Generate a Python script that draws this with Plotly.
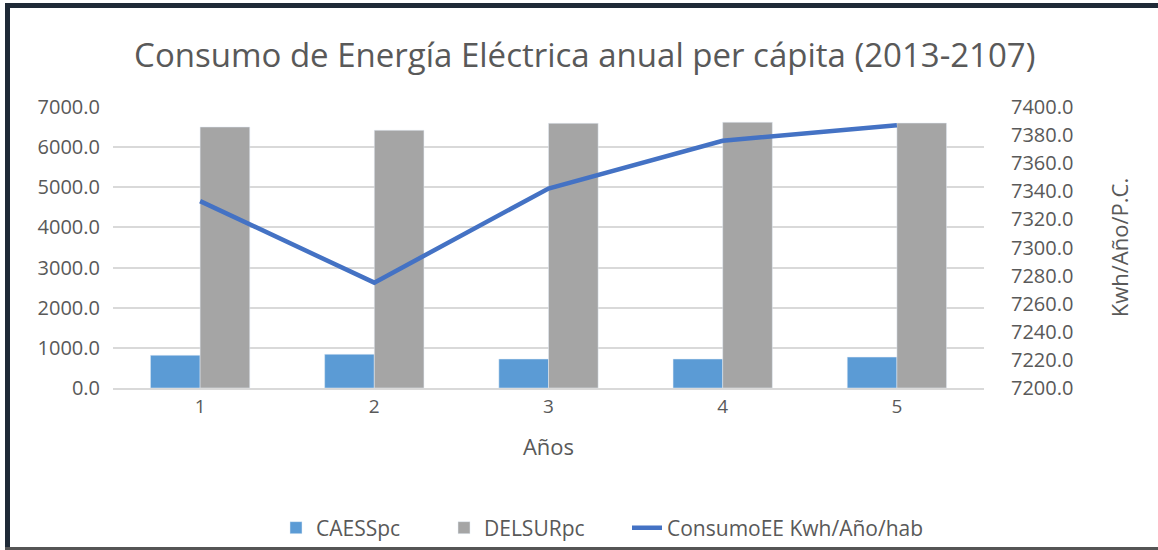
import plotly.graph_objects as go

categories = ["1", "2", "3", "4", "5"]
caess = [815, 840, 722, 722, 770]
delsur = [6502, 6420, 6594, 6619, 6600]
consumo = [7333, 7275, 7342, 7376, 7387]
left_ticks = [0, 1000, 2000, 3000, 4000, 5000, 6000, 7000]
right_ticks = [7200, 7220, 7240, 7260, 7280, 7300, 7320, 7340, 7360, 7380, 7400]

W, H = 1158, 550
L, R, T, B = 113, 174, 107, 162
PW, PH = W - L - R, H - T - B

def px(x):
    return (x - L) / PW

def py(y):
    return (H - B - y) / PH

FONT = "Open Sans"
GRAY = "#595959"

fig = go.Figure()
fig.add_trace(go.Bar(x=categories, y=caess, name="CAESSpc", marker_color="#5B9BD5",
                     legend="legend"))
fig.add_trace(go.Bar(x=categories, y=delsur, name="DELSURpc", marker_color="#A5A5A5",
                     legend="legend2"))
fig.add_trace(go.Scatter(x=categories, y=consumo, name="ConsumoEE Kwh/Año/hab",
                         mode="lines", line=dict(color="#4472C4", width=4.5), yaxis="y2",
                         legend="legend3"))

def leg(xpix):
    return dict(orientation="h", x=px(xpix), xanchor="left", y=py(528), yanchor="middle",
                font=dict(size=21, color=GRAY), bgcolor="rgba(0,0,0,0)")

fig.update_layout(
    width=W, height=H,
    margin=dict(l=L, r=R, t=T, b=B, autoexpand=False),
    paper_bgcolor="white", plot_bgcolor="white",
    font=dict(family=FONT, color=GRAY, size=17),
    title=dict(text="Consumo de Energía Eléctrica anual per cápita (2013-2107)",
               x=0.505, xanchor="center", y=1 - 55 / H, yanchor="middle",
               font=dict(size=33, color=GRAY, family=FONT)),
    barmode="group", bargap=0.43, bargroupgap=0,
    xaxis=dict(showgrid=False, showline=True, linecolor="#D9D9D9", linewidth=1.5,
               ticks="", tickfont=dict(size=19, color=GRAY), automargin=False,
               title=dict(text="Años", font=dict(size=22, color=GRAY), standoff=22)),
    yaxis=dict(range=[0, 7000], tickvals=left_ticks,
               ticktext=[f"{v:.1f}" for v in left_ticks], automargin=False,
               showgrid=True, gridcolor="#D9D9D9", gridwidth=1.5, zeroline=False,
               tickfont=dict(size=20, color=GRAY), ticks="", ticklabelstandoff=12),
    yaxis2=dict(range=[7200, 7400], tickvals=right_ticks,
                ticktext=[f"{v:.1f}" for v in right_ticks], automargin=False,
                overlaying="y", side="right", showgrid=False, zeroline=False,
                tickfont=dict(size=20, color=GRAY), ticks="", ticklabelstandoff=26,
                title=dict(text="Kwh/Año/P.C.", font=dict(size=22, color=GRAY), standoff=40)),
    legend=leg(276),
    legend2=leg(444),
    legend3=leg(627),
    showlegend=True,
)

# chart frame
frame = "#1F2A37"
fig.add_shape(type="rect", xref="paper", yref="paper",
              x0=px(5), x1=px(10), y0=py(550), y1=py(4),
              fillcolor=frame, line_width=0, layer="above")
fig.add_shape(type="rect", xref="paper", yref="paper",
              x0=px(5), x1=px(1158), y0=py(8), y1=py(3),
              fillcolor=frame, line_width=0, layer="above")
fig.add_shape(type="rect", xref="paper", yref="paper",
              x0=px(5), x1=px(1158), y0=py(550), y1=py(547),
              fillcolor="#555555", line_width=0, layer="above")

fig.write_html("out.html", config={"displayModeBar": False},
               post_script="document.body.style.margin='0';document.body.style.overflow='hidden';")
